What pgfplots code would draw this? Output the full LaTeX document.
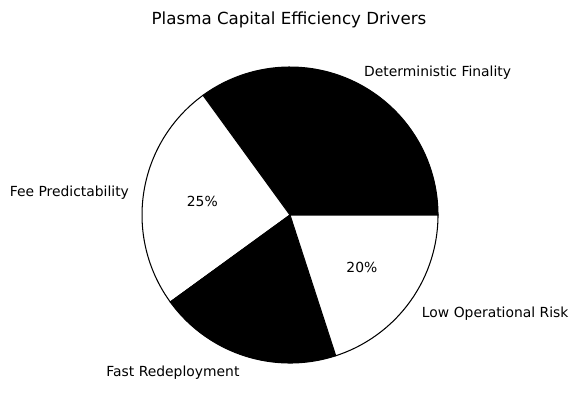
\documentclass[border=0pt]{standalone}
\usepackage{fontspec}
\setmainfont{DejaVu Sans}
\usepackage{pgfplots}
\pgfplotsset{compat=1.18}
\begin{document}
\begin{tikzpicture}
\begin{axis}[
  scale only axis,
  width=416.16pt, height=295.92pt,
  xmin=-1.9595, xmax=1.9459,
  ymin=-1.3243, ymax=1.4527,
  hide axis, clip=false,
]
\path[use as bounding box] (rel axis cs:0,0) rectangle (rel axis cs:1,1);
% slices: 35%, 25%, 20%, 20% -> angles 0-126, 126-216, 216-288, 288-360
\addplot[fill=black, draw=black, line width=0.75pt, domain=0:126, samples=90]
  ({cos(x)},{sin(x)}) -- (axis cs:0,0) -- cycle;
\addplot[fill=white, draw=black, line width=0.75pt, domain=126:216, samples=70]
  ({cos(x)},{sin(x)}) -- (axis cs:0,0) -- cycle;
\addplot[fill=black, draw=black, line width=0.75pt, domain=216:288, samples=60]
  ({cos(x)},{sin(x)}) -- (axis cs:0,0) -- cycle;
\addplot[fill=white, draw=black, line width=0.75pt, domain=288:360, samples=60]
  ({cos(x)},{sin(x)}) -- (axis cs:0,0) -- cycle;
% labels
\node[anchor=west, inner sep=0pt, font=\fontsize{10}{12}\selectfont] at (axis cs:0.4994,0.9601) {Deterministic Finality};
\node[anchor=east, inner sep=0pt, font=\fontsize{10}{12}\selectfont] at (axis cs:-1.0865,0.1521) {Fee Predictability};
\node[anchor=east, inner sep=0pt, font=\fontsize{10}{12}\selectfont] at (axis cs:-0.3399,-1.0642) {Fast Redeployment};
\node[anchor=west, inner sep=0pt, font=\fontsize{10}{12}\selectfont] at (axis cs:0.8899,-0.6666) {Low Operational Risk};
% percentages
\node[inner sep=0pt, font=\fontsize{10}{12}\selectfont, text=black] at (axis cs:0.2724,0.5346) {35\%};
\node[inner sep=0pt, font=\fontsize{10}{12}\selectfont, text=black] at (axis cs:-0.5926,0.0939) {25\%};
\node[inner sep=0pt, font=\fontsize{10}{12}\selectfont, text=black] at (axis cs:-0.1854,-0.5706) {20\%};
\node[inner sep=0pt, font=\fontsize{10}{12}\selectfont, text=black] at (axis cs:0.4854,-0.3527) {20\%};
% title
\node[inner sep=0pt, font=\fontsize{12}{14}\selectfont] at (axis cs:-0.0068,1.3176) {Plasma Capital Efficiency Drivers};
\end{axis}
\end{tikzpicture}
\end{document}
